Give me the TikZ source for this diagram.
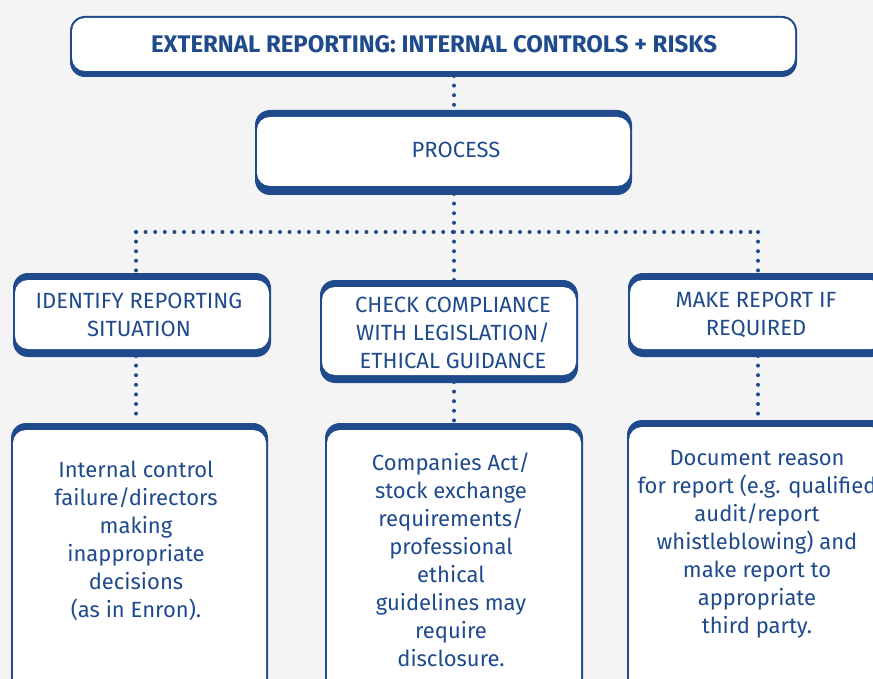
\documentclass[tikz,border=0pt]{standalone}
\usepackage{fontspec}
\setmainfont{Fira Sans}
\definecolor{navy}{HTML}{1F4A8C}
\definecolor{bg}{HTML}{F4F4F4}
\begin{document}
\begin{tikzpicture}[x=1pt,y=-1pt,
  band/.style={fill=navy, rounded corners=15pt},
  inner/.style={fill=white, rounded corners=13pt, inner sep=0pt},
  txt/.style={text=navy, font=\fontsize{22}{28}\selectfont, align=center, inner sep=0pt},
  dots/.style={navy, line width=4pt, line cap=round, dash pattern=on 0pt off 9.6pt}]
\useasboundingbox (0,0) rectangle (873,679);
\fill[bg] (0,0) rectangle (873,679);

% connector anchors
\coordinate (jl) at (136,232);
\coordinate (jm) at (454,232);
\coordinate (jr) at (758,232);

% dotted connectors
\draw[dots] (454,76) -- (454,110);
\draw[dots] (454,194) -- (jm);
\draw[dots] (jl) -- (jr);
\draw[dots] (jl) -- (136,274);
\draw[dots] (jm) -- (454,281);
\draw[dots] (jr) -- (758,274);
\draw[dots] (136,356) -- (136,423);
\draw[dots] (454,382) -- (454,423);
\draw[dots] (758,356) -- (758,420);

% title box
\fill[band] (70,16) rectangle (797,77);
\node[inner, minimum width=723pt, minimum height=53pt] (title) at (433.5,44.5) {};
\node[txt, font=\fontsize{24}{28}\selectfont\bfseries] (titlet) at (434,44) {EXTERNAL REPORTING: INTERNAL CONTROLS + RISKS};

% process box
\fill[band] (255,110) rectangle (632,195);
\node[inner, minimum width=373pt, minimum height=69pt] (proc) at (443.5,151.5) {};
\node[txt] (proct) at (456,150) {PROCESS};

% row 2
\fill[band] (13,273) rectangle (271,357);
\node[inner, minimum width=254pt, minimum height=69pt] (ida) at (142,314.5) {};
\node[txt] (idat) at (139,315) {IDENTIFY REPORTING\\SITUATION};

\fill[band] (320,280) rectangle (578,383);
\node[inner, minimum width=254pt, minimum height=88pt] (chk) at (449,331) {};
\node[txt] (chkt) at (453,333) {CHECK COMPLIANCE\\WITH LEGISLATION/\\ETHICAL GUIDANCE};

\fill[band] (628,273) rectangle (886,357);
\node[inner, minimum width=254pt, minimum height=69pt] (mak) at (757,314.5) {};
\node[txt] (makt) at (756,315) {MAKE REPORT IF\\REQUIRED};

% row 3
\fill[band] (11,423) rectangle (268,720);
\node[inner, minimum width=253pt, minimum height=280pt] (det1) at (139.5,570) {};
\node[txt] (det1t) at (136,541) {Internal control\\failure/directors\\making\\inappropriate\\decisions\\(as in Enron).};

\fill[band] (325,423) rectangle (583,720);
\node[inner, minimum width=254pt, minimum height=280pt] (det2) at (454,570) {};
\node[txt] (det2t) at (451,560) {Companies Act/\\stock exchange\\requirements/\\professional\\ethical\\guidelines may\\require\\disclosure.};

\fill[band] (627,420) rectangle (886,720);
\node[inner, minimum width=255pt, minimum height=283pt] (det3) at (756.5,568.5) {};
\node[txt] (det3t) at (757,544) {Document reason\\for report (e.g. qualified\\audit/report\\whistleblowing) and\\make report to\\appropriate\\third party.};
\end{tikzpicture}
\end{document}
